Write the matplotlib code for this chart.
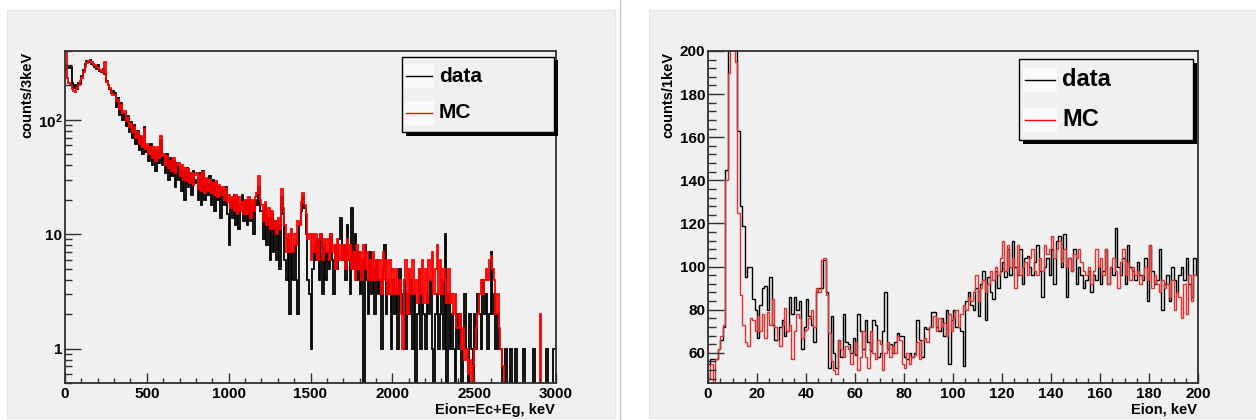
import numpy as np
import matplotlib
matplotlib.use("Agg")
import matplotlib.pyplot as plt
from matplotlib.patches import Rectangle
from matplotlib.lines import Line2D
from matplotlib.ticker import FixedLocator, FixedFormatter, MultipleLocator, NullFormatter

plt.rcParams['font.family'] = ['Liberation Sans', 'DejaVu Sans']
plt.rcParams['mathtext.fontset'] = 'custom'
plt.rcParams['mathtext.rm'] = 'Liberation Sans:bold'
plt.rcParams['mathtext.bf'] = 'Liberation Sans:bold'
plt.rcParams['mathtext.it'] = 'Liberation Sans:bold'

# ---------------- data: left panel (Eion spectrum, 10 keV bins, counts/3keV) ----------------
left_bin_kev = 10
left_data = [
    280, 290, 285, 290, 210, 190, 200, 185, 210, 205,
    240, 275, 305, 330, 320, 335, 310, 300, 290, 280,
    300, 270, 260, 280, 250, 220, 200, 185, 170, 180,
    170, 130, 155, 110, 140, 100, 112, 88, 108, 78,
    95, 70, 90, 62, 80, 55, 70, 50, 86, 52,
    58, 44, 62, 40, 55, 36, 52, 42, 66, 40,
    48, 34, 50, 30, 46, 32, 44, 26, 42, 30,
    38, 24, 36, 20, 38, 26, 34, 22, 36, 28,
    30, 20, 34, 18, 36, 20, 30, 22, 32, 18,
    30, 16, 28, 20, 26, 14, 24, 18, 26, 15,
    8, 20, 14, 22, 12, 20, 11, 18, 22, 13,
    19, 12, 20, 13, 18, 10, 20, 18, 26, 16,
    16, 9, 18, 8, 14, 6, 15, 7, 13, 6,
    12, 5, 21, 15, 6, 4, 9, 2, 7, 4,
    8, 4, 2, 12, 16, 21, 17, 10, 4, 3,
    1, 5, 8, 6, 9, 4, 10, 3, 8, 4,
    7, 5, 10, 6, 3, 8, 5, 9, 14, 6,
    8, 4, 12, 6, 3, 17, 5, 10, 4, 7,
    3, 6, 0, 8, 4, 2, 7, 3, 5, 2,
    6, 3, 4, 1, 5, 8, 2, 4, 3, 1,
    4, 2, 3, 1, 5, 3, 2, 4, 1, 3,
    2, 4, 1, 3, 0, 2, 5, 1, 3, 2,
    1, 3, 2, 4, 1, 0, 2, 3, 1, 2,
    4, 1, 10, 0, 3, 1, 2, 1, 0, 2,
    1, 2, 0, 1, 3, 1, 0, 2, 1, 0,
    2, 1, 3, 2, 1, 4, 2, 3, 1, 2,
    7, 2, 3, 1, 2, 1, 1, 0, 0, 1,
    0, 0, 1, 0, 0, 1, 0, 0, 0, 0,
    1, 0, 0, 0, 0, 0, 1, 0, 0, 0,
    0, 0, 0, 0, 1, 0, 0, 0, 1, 1,
]
left_mc = [
    420, 230, 210, 200, 185, 180, 175, 190, 200, 220,
    230, 260, 290, 315, 330, 325, 320, 310, 300, 290,
    285, 275, 265, 255, 320, 215, 200, 190, 175, 165,
    165, 145, 150, 125, 135, 115, 120, 98, 104, 86,
    92, 78, 86, 70, 78, 62, 72, 58, 84, 56,
    62, 50, 58, 46, 58, 44, 58, 46, 72, 48,
    50, 40, 48, 38, 44, 36, 46, 34, 40, 42,
    32, 40, 30, 38, 29, 37, 28, 34, 27, 33,
    34, 25, 32, 24, 35, 23, 31, 24, 30, 23,
    28, 22, 29, 21, 27, 22, 26, 20, 25, 19,
    22, 17, 21, 16, 22, 15, 21, 16, 19, 15,
    20, 15, 21, 14, 20, 16, 21, 23, 32, 20,
    18, 13, 19, 12, 17, 11, 16, 11, 13, 10,
    14, 11, 25, 17, 12, 7, 10, 7, 11, 7,
    10, 8, 13, 12, 19, 23, 18, 15, 9, 10,
    6, 10, 7, 10, 6, 9, 10, 6, 9, 7,
    9, 6, 10, 7, 8, 5, 9, 6, 8, 6,
    8, 5, 9, 6, 8, 5, 7, 4, 8, 5,
    7, 4, 8, 5, 7, 4, 6, 4, 7, 4,
    6, 4, 6, 3, 7, 4, 6, 3, 6, 3,
    5, 3, 5, 3, 4, 2, 1, 4, 6, 2,
    5, 3, 6, 3, 4, 2.5, 5, 3, 6, 2.5,
    5, 2.5, 6, 4, 7, 3, 5, 8, 3, 6,
    3, 5, 4, 2.5, 5, 2.5, 3, 2, 3, 1.5,
    1.5, 2, 1, 1.5, 0.8, 1, 0.6, 0.8, 0, 0.7,
    1, 1.5, 2, 3, 4, 3, 4, 5, 4, 6,
    6.5, 5, 4, 2, 3, 1.5, 1, 0.7, 0, 0,
    0, 0, 0, 0, 0, 0, 0, 0, 0, 0,
    0, 0, 0, 0, 0, 0, 0, 0, 0, 0,
    2, 0, 0, 0, 0, 0, 0, 0, 0, 0,
]

# ---------------- data: right panel (low energy, 1 keV bins) ----------------
right_bin_kev = 1
right_data = [
    55, 57, 57, 57, 62, 66, 72, 145, 215, 280,
    300, 230, 163, 128, 119, 95, 100, 100, 85, 80,
    67, 82, 90, 91, 80, 95, 73, 66, 66, 72,
    75, 68, 70, 86, 78, 86, 80, 84, 62, 72,
    85, 77, 73, 65, 88, 90, 90, 103, 88, 53,
    77, 60, 53, 66, 58, 78, 65, 64, 60, 67,
    59, 78, 70, 62, 75, 65, 61, 75, 73, 58,
    60, 70, 88, 62, 64, 60, 65, 69, 68, 68,
    58, 57, 60, 58, 60, 75, 66, 58, 72, 71,
    72, 79, 79, 72, 70, 76, 68, 80, 55, 75,
    80, 72, 72, 70, 54, 84, 88, 82, 80, 90,
    77, 92, 98, 75, 95, 88, 85, 98, 90, 98,
    102, 95, 108, 96, 112, 100, 96, 108, 92, 104,
    105, 100, 96, 102, 110, 98, 86, 100, 104, 96,
    108, 92, 112, 114, 100, 115, 86, 104, 98, 108,
    92, 100, 96, 90, 94, 98, 88, 96, 94, 100,
    92, 98, 108, 92, 100, 96, 118, 100, 96, 104,
    92, 110, 100, 98, 94, 102, 96, 94, 104, 84,
    110, 98, 92, 94, 108, 80, 92, 96, 84, 100,
    94, 88, 96, 100, 94, 104, 92, 86, 104, 96,
]
right_mc = [
    48, 55, 45, 57, 62, 68, 73, 140, 190, 210,
    260, 195, 125, 87, 73, 65, 63, 76, 75, 70,
    77, 70, 78, 67, 79, 73, 85, 72, 66, 63,
    73, 81, 70, 73, 57, 70, 78, 76, 67, 70,
    71, 76, 80, 72, 90, 88, 103, 104, 87, 69,
    56, 52, 50, 66, 62, 58, 63, 62, 55, 60,
    65, 52, 58, 70, 58, 53, 70, 60, 57, 66,
    64, 52, 60, 65, 58, 63, 60, 68, 66, 55,
    53, 60, 55, 58, 59, 65, 57, 66, 67, 65,
    72, 72, 77, 70, 76, 72, 74, 68, 78, 70,
    76, 80, 72, 78, 82, 80, 86, 84, 88, 96,
    84, 90, 94, 88, 92, 98, 94, 100, 96, 104,
    112, 98, 110, 100, 104, 90, 110, 96, 100, 102,
    96, 104, 108, 98, 96, 104, 98, 110, 106, 108,
    114, 104, 108, 112, 102, 108, 100, 104, 98, 106,
    104, 108, 102, 98, 96, 100, 92, 98, 108, 100,
    104, 96, 108, 92, 100, 104, 98, 90, 102, 108,
    96, 102, 94, 100, 96, 98, 92, 96, 100, 94,
    110, 90, 96, 92, 88, 94, 90, 92, 86, 94,
    80, 88, 86, 76, 92, 78, 96, 84, 96, 96,
]

legend_labels = ["data", "MC"]
left_xlabel = "Eion=Ec+Eg, keV"
left_ylabel = "counts/3keV"
right_xlabel = "Eion, keV"
right_ylabel = "counts/1keV"

# ---------------- figure ----------------
W, H = 1256, 420
fig = plt.figure(figsize=(W / 100, H / 100), dpi=100)
fig.patch.set_facecolor('white')
BG = '#f0f0f0'
FRAME = '#303030'


def fx(x):
    return x / W


def fy(y):
    return 1 - y / H


def rect(x0, y0, x1, y1, **kw):
    r = Rectangle((fx(x0), fy(y1)), (x1 - x0) / W, (y1 - y0) / H,
                  transform=fig.transFigure, **kw)
    fig.add_artist(r)
    return r


# canvas pads
rect(7, 10, 615, 418, facecolor=BG, edgecolor='#e4e4e4', lw=0.8, zorder=0)
rect(649, 10, 1256, 418, facecolor=BG, edgecolor='#e4e4e4', lw=0.8, zorder=0)
fig.add_artist(Line2D([fx(620), fx(620)], [0, 1], transform=fig.transFigure,
                      color='#c8c8c8', lw=1.0, zorder=0))


def make_axes(x0, y0, x1, y1):
    ax = fig.add_axes([fx(x0), fy(y1), (x1 - x0) / W, (y1 - y0) / H])
    ax.set_facecolor(BG)
    for s in ax.spines.values():
        s.set_color(FRAME)
        s.set_linewidth(1.3)
    ax.tick_params(which='both', direction='in', top=False, right=False,
                   color=FRAME, width=1.0, labelsize=11)
    return ax


def bold_ticks(ax):
    for lab in ax.get_xticklabels() + ax.get_yticklabels():
        lab.set_fontweight('bold')


def legend(x0, y0, x1, y1, ly, lx0, lx1, tx, fs):
    rect(x0 + 3.5, y0 + 3.5, x1 + 3.5, y1 + 3.5, facecolor='black', edgecolor='black', lw=0, zorder=10)
    rect(x0, y0, x1, y1, facecolor=BG, edgecolor='black', lw=1.0, zorder=11)
    for yy, col, lab in zip(ly, ['black', 'red'], legend_labels):
        rect(lx0 - 2, yy - 12, lx1 + 2, yy + 12, facecolor='#fafafa', edgecolor='none', zorder=11.5)
        fig.add_artist(Line2D([fx(lx0), fx(lx1)], [fy(yy), fy(yy)], transform=fig.transFigure,
                              color=col, lw=1.0, zorder=12))
        fig.text(fx(tx), fy(yy), lab, ha='left', va='center', fontsize=fs,
                 fontweight='bold', zorder=12)


# ---------------- left panel ----------------
ax1 = make_axes(65, 51, 556, 383)
edges_l = np.arange(len(left_data) + 1) * left_bin_kev
dl = np.clip(np.array(left_data, float), 1e-3, None)
ml = np.clip(np.array(left_mc, float), 1e-3, None)
ax1.stairs(dl, edges_l, baseline=None, color='black', lw=1.3)
ax1.stairs(ml, edges_l, baseline=None, color='red', lw=1.3)
ax1.set_yscale('log')
ax1.set_xlim(0, 3000)
ax1.set_ylim(0.5, 400)
ax1.xaxis.set_major_locator(MultipleLocator(500))
ax1.xaxis.set_minor_locator(MultipleLocator(100))
ax1.yaxis.set_major_locator(FixedLocator([1, 10, 100]))
ax1.yaxis.set_major_formatter(FixedFormatter(['1', '10', r'$\mathbf{10^{2}}$']))
minor_l = [m * 10.0 ** e for e in (-1, 0, 1, 2) for m in range(2, 10)]
ax1.yaxis.set_minor_locator(FixedLocator(minor_l))
ax1.yaxis.set_minor_formatter(NullFormatter())
ax1.tick_params(axis='y', which='major', length=11.5, pad=2)
ax1.tick_params(axis='y', which='minor', length=5)
ax1.tick_params(axis='x', which='major', length=7.5, pad=3)
ax1.tick_params(axis='x', which='minor', length=3.8)
bold_ticks(ax1)

fig.text(fx(555), fy(410), left_xlabel, ha='right', va='center', fontsize=10.5, fontweight='bold')
fig.text(fx(27), fy(52), left_ylabel, ha='center', va='top', rotation=90, fontsize=10.5, fontweight='bold')
legend(402, 57, 554, 132, [76, 113], 406, 432, 439, 15)

# ---------------- right panel ----------------
ax2 = make_axes(708, 51, 1198, 383)
edges_r = np.arange(len(right_data) + 1) * right_bin_kev
ax2.stairs(np.array(right_data, float), edges_r, baseline=None, color='black', lw=1.0)
ax2.stairs(np.array(right_mc, float), edges_r, baseline=None, color='#e0302f', lw=1.0)
ax2.set_xlim(0, 200)
ax2.set_ylim(46, 200)
ax2.xaxis.set_major_locator(MultipleLocator(20))
ax2.xaxis.set_minor_locator(MultipleLocator(5))
ax2.yaxis.set_major_locator(MultipleLocator(20))
ax2.yaxis.set_minor_locator(MultipleLocator(4))
ax2.tick_params(axis='y', which='major', length=11.5, pad=2)
ax2.tick_params(axis='y', which='minor', length=5.5)
ax2.tick_params(axis='x', which='major', length=7.5, pad=3)
ax2.tick_params(axis='x', which='minor', length=3.8)
bold_ticks(ax2)

fig.text(fx(1197), fy(410), right_xlabel, ha='right', va='center', fontsize=10.5, fontweight='bold')
fig.text(fx(668), fy(52), right_ylabel, ha='center', va='top', rotation=90, fontsize=10.5, fontweight='bold')
legend(1019, 59, 1193, 140, [80, 120], 1025, 1055, 1062, 17)

fig.savefig('out.png', dpi=100)
